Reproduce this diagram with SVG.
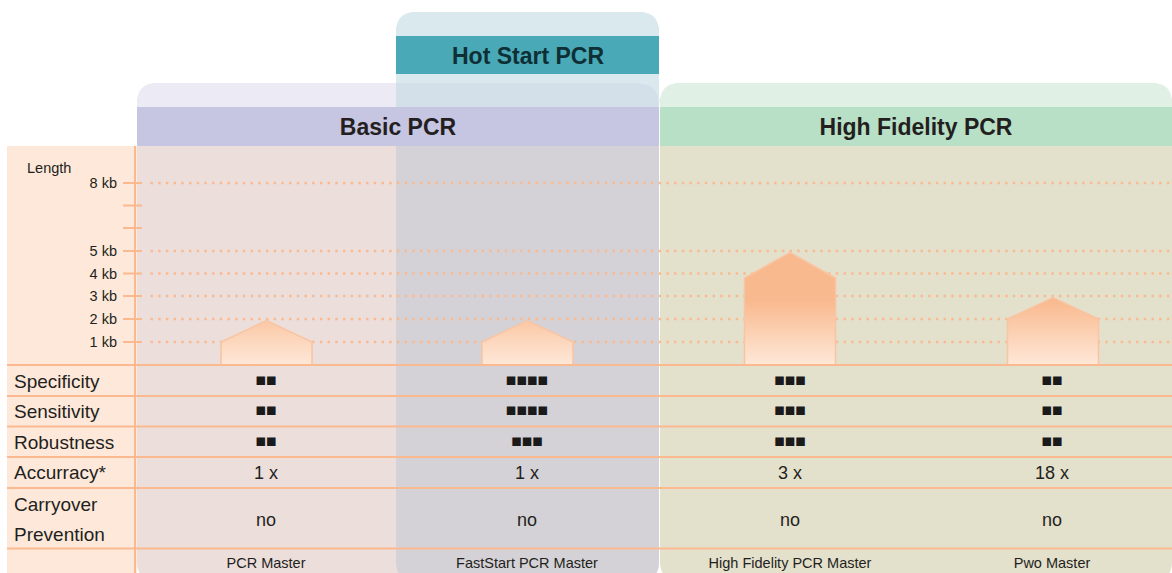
<svg xmlns="http://www.w3.org/2000/svg" width="1172" height="573" viewBox="0 0 1172 573">
<style>
.hdr{font-family:"Liberation Sans",Arial,sans-serif;font-weight:bold;font-size:23px;fill:#231f20;text-anchor:middle}
.lbl{font-family:"Liberation Sans",Arial,sans-serif;font-size:19px;fill:#231f20}
.val{font-family:"Liberation Sans",Arial,sans-serif;font-size:18px;fill:#231f20;text-anchor:middle}
.sq{font-family:"Liberation Sans","DejaVu Sans",sans-serif;font-size:17.5px;fill:#1a1a1a;text-anchor:middle}
.prod{font-family:"Liberation Sans",Arial,sans-serif;font-size:14.5px;fill:#231f20;text-anchor:middle}
.ax{font-family:"Liberation Sans",Arial,sans-serif;font-size:14.5px;fill:#231f20;text-anchor:end}
.grid{stroke:#fbb98f;stroke-width:2;fill:none}
.dot{stroke:#fbb98f;stroke-width:2.4;stroke-dasharray:2.4 5.3;fill:none}
.bar{fill:url(#barGrad);stroke:#f9c4a2;stroke-width:1.5}
</style>
<defs>
<linearGradient id="barGrad" gradientUnits="userSpaceOnUse" x1="0" y1="300" x2="0" y2="365">
<stop offset="0" stop-color="#f9b98e"/>
<stop offset="1" stop-color="#fee8d8"/>
</linearGradient>
</defs>

<g id="panel-labels">
<rect x="7" y="146" width="130" height="430" fill="#fde8da"/>
</g>

<g id="panel-basic">
<rect x="137" y="83" width="522" height="500" rx="20" fill="#ecdeda"/>
<path d="M137,107 V103 Q137,83 157,83 H639 Q659,83 659,103 V107 Z" fill="#ecebf5"/>
</g>

<g id="panel-hotstart">
<rect x="396" y="12" width="263" height="571" rx="20" fill="#d4d2d6"/>
<path d="M396,146 V32 Q396,12 416,12 H639 Q659,12 659,32 V146 Z" fill="#d9e9ee"/>
<path d="M396,107 V83 H639 Q659,83 659,103 V107 Z" fill="#d3dfe9"/>
<path d="M639,83 Q659,83 659,103" fill="none" stroke="#dde7ef" stroke-width="1.5"/>
<rect x="396" y="36" width="263" height="38" fill="#49a9b6"/>
<text x="528" y="64" class="hdr" style="fill:#0e2f35">Hot Start PCR</text>
</g>

<g id="header-basic">
<rect x="137" y="107" width="522" height="39" fill="#c6c5e2"/>
<text x="398" y="135" class="hdr">Basic PCR</text>
</g>

<g id="panel-hf">
<rect x="660" y="83" width="512" height="500" rx="20" fill="#e3e0cc"/>
<path d="M660,107 V103 Q660,83 680,83 H1152 Q1172,83 1172,103 V107 Z" fill="#e0f0e5"/>
<rect x="660" y="107" width="512" height="39" fill="#b8e0c6"/>
<text x="916" y="135" class="hdr">High Fidelity PCR</text>
</g>

<g id="grid">
<line class="dot" x1="150.5" y1="183" x2="1172" y2="183"/>
<line class="dot" x1="150.5" y1="251" x2="1172" y2="251"/>
<line class="dot" x1="150.5" y1="273.5" x2="1172" y2="273.5"/>
<line class="dot" x1="150.5" y1="296" x2="1172" y2="296"/>
<line class="dot" x1="150.5" y1="319" x2="1172" y2="319"/>
<line class="dot" x1="150.5" y1="342" x2="1172" y2="342"/>
<line class="grid" x1="135" y1="146" x2="135" y2="573"/>
<line class="grid" x1="123" y1="183" x2="142" y2="183"/>
<line class="grid" x1="123" y1="205.5" x2="142" y2="205.5"/>
<line class="grid" x1="123" y1="228" x2="142" y2="228"/>
<line class="grid" x1="123" y1="251" x2="142" y2="251"/>
<line class="grid" x1="123" y1="273.5" x2="142" y2="273.5"/>
<line class="grid" x1="123" y1="296" x2="142" y2="296"/>
<line class="grid" x1="123" y1="319" x2="142" y2="319"/>
<line class="grid" x1="123" y1="342" x2="142" y2="342"/>
</g>

<g id="axis-labels">
<text x="27" y="173" class="ax" style="text-anchor:start">Length</text>
<text x="117" y="188" class="ax">8 kb</text>
<text x="117" y="256" class="ax">5 kb</text>
<text x="117" y="278.5" class="ax">4 kb</text>
<text x="117" y="301" class="ax">3 kb</text>
<text x="117" y="324" class="ax">2 kb</text>
<text x="117" y="347" class="ax">1 kb</text>
</g>

<g id="bar-pcr-master"><path class="bar" d="M221,365 V342 L266.5,320.5 L312,342 V365 Z"/></g>
<g id="bar-faststart"><path class="bar" d="M482,365 V342 L527.5,320.5 L573,342 V365 Z"/></g>
<g id="bar-hifi"><path class="bar" d="M744.5,365 V278 L790,252.5 L835.5,278 V365 Z"/></g>
<g id="bar-pwo"><path class="bar" d="M1007.5,365 V319 L1053,297.5 L1098.5,319 V365 Z"/></g>

<g id="table-lines">
<line class="grid" x1="7" y1="365" x2="1172" y2="365"/>
<line class="grid" x1="7" y1="396" x2="1172" y2="396"/>
<line class="grid" x1="7" y1="426.5" x2="1172" y2="426.5"/>
<line class="grid" x1="7" y1="457" x2="1172" y2="457"/>
<line class="grid" x1="7" y1="488" x2="1172" y2="488"/>
<line class="grid" x1="7" y1="548.5" x2="1172" y2="548.5"/>
</g>

<g id="row-labels">
<text x="14" y="387.5" class="lbl">Specificity</text>
<text x="14" y="418" class="lbl">Sensitivity</text>
<text x="14" y="448.5" class="lbl">Robustness</text>
<text x="14" y="479" class="lbl">Accurracy*</text>
<text x="14" y="511" class="lbl">Carryover</text>
<text x="14" y="541" class="lbl">Prevention</text>
</g>

<g id="col-pcr-master">
<text x="266" y="385.5" class="sq">■■</text>
<text x="266" y="416" class="sq">■■</text>
<text x="266" y="446.5" class="sq">■■</text>
<text x="266" y="479" class="val">1 x</text>
<text x="266" y="526" class="val">no</text>
<text x="266" y="567.5" class="prod">PCR Master</text>
</g>
<g id="col-faststart">
<text x="527" y="385.5" class="sq">■■■■</text>
<text x="527" y="416" class="sq">■■■■</text>
<text x="527" y="446.5" class="sq">■■■</text>
<text x="527" y="479" class="val">1 x</text>
<text x="527" y="526" class="val">no</text>
<text x="527" y="567.5" class="prod">FastStart PCR Master</text>
</g>
<g id="col-hifi">
<text x="790" y="385.5" class="sq">■■■</text>
<text x="790" y="416" class="sq">■■■</text>
<text x="790" y="446.5" class="sq">■■■</text>
<text x="790" y="479" class="val">3 x</text>
<text x="790" y="526" class="val">no</text>
<text x="790" y="567.5" class="prod">High Fidelity PCR Master</text>
</g>
<g id="col-pwo">
<text x="1052" y="385.5" class="sq">■■</text>
<text x="1052" y="416" class="sq">■■</text>
<text x="1052" y="446.5" class="sq">■■</text>
<text x="1052" y="479" class="val">18 x</text>
<text x="1052" y="526" class="val">no</text>
<text x="1052" y="567.5" class="prod">Pwo Master</text>
</g>
</svg>
